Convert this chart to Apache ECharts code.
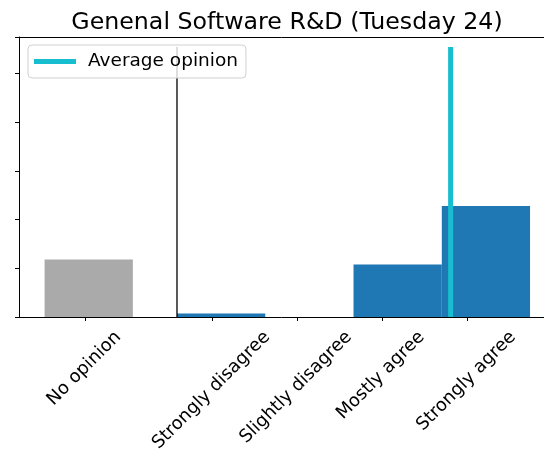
<!DOCTYPE html>
<html>
<head>
<meta charset="utf-8">
<script src="https://cdn.jsdelivr.net/npm/echarts@6/dist/echarts.min.js"></script>
<style>
  html, body { margin: 0; padding: 0; background: #fff; }
</style>
</head>
<body>
<div id="chart" style="width:544px; height:450px; background-color: white;"></div>
<script>
// opinion categories and where their tick sits on the x scale
const categories = ['No opinion', 'Strongly disagree', 'Slightly disagree', 'Mostly agree', 'Strongly agree']
const tickPos = [-0.04, 1.40, 2.36, 3.32, 4.29]
// bar bins (left edge, right edge) and heights
const binStart = [-0.5, 1, 2, 3, 4]
const binEnd = [0.5, 2, 3, 4, 5]
const counts = [1.18, 0.07, 0, 1.08, 2.28]
// vertical lines
const averageOpinion = 4.10
const referenceLine = 1.0
const lineTop = 5.55

const xMin = -0.79, xMax = 5.158
const LABEL_SIZE = 18
const LEGEND_SIZE = 18.5

// label anchor = top-right corner of the rotated text, as matplotlib centres the box on the tick
const pxPerUnit = (544 - 19) / (xMax - xMin)
const ctx = document.createElement('canvas').getContext('2d')
ctx.font = LABEL_SIZE + 'px "DejaVu Sans"'
const c45 = Math.SQRT1_2
const labelPos = categories.map((name, i) => {
  const L = ctx.measureText(name).width
  const h = LABEL_SIZE * 1.16
  return tickPos[i] + ((L - h) * c45 / 2) / pxPerUnit
})

function labelFor(v) {
  let best = 0
  for (let i = 0; i < labelPos.length; i++) {
    if (Math.abs(labelPos[i] - v) < Math.abs(labelPos[best] - v)) best = i
  }
  return categories[best]
}

const grayData = []
const blueData = []
for (let i = 0; i < categories.length; i++) {
  const row = [binStart[i], binEnd[i], counts[i]]
  if (i === 0) grayData.push(row)
  else blueData.push(row)
}

function renderBin(params, api) {
  const p0 = api.coord([api.value(0), api.value(2)])
  const p1 = api.coord([api.value(1), 0])
  return {
    type: 'rect',
    shape: { x: p0[0], y: p0[1], width: p1[0] - p0[0], height: p1[1] - p0[1] },
    style: { fill: api.visual('color') }
  }
}

const my_echart = echarts.init(document.getElementById('chart'), null, { renderer: 'canvas' })

my_echart.setOption({
  animation: false,
  textStyle: { fontFamily: 'DejaVu Sans' },
  title: {
    text: 'Genenal Software R&D (Tuesday 24)',
    left: 282,
    textAlign: 'center',
    top: 6,
    textStyle: { fontSize: 23.7, fontWeight: 'normal', color: '#000', fontFamily: 'DejaVu Sans' }
  },
  legend: {
    data: ['Average opinion'],
    left: 28,
    top: 45,
    icon: 'rect',
    itemWidth: 42,
    itemHeight: 5,
    padding: [7, 8, 7, 6],
    backgroundColor: 'rgba(255,255,255,0.8)',
    borderColor: '#d0d0d0',
    borderWidth: 1,
    borderRadius: 4,
    textStyle: { fontSize: LEGEND_SIZE, color: '#000', fontFamily: 'DejaVu Sans', padding: [0, 0, 0, 7] }
  },
  grid: {
    left: 19,
    right: 0,
    top: 37,
    bottom: 133,
    containLabel: false,
    outerBoundsMode: 'none'
  },
  xAxis: [
    {
      type: 'value',
      min: xMin,
      max: xMax,
      splitLine: { show: false },
      axisLine: { show: true, onZero: false, lineStyle: { color: '#000', width: 1 } },
      axisTick: { show: true, length: 4, customValues: tickPos, lineStyle: { color: '#000' } },
      axisLabel: {
        customValues: labelPos,
        rotate: 45,
        align: 'right',
        verticalAlign: 'top',
        margin: 11,
        fontSize: LABEL_SIZE,
        color: '#000',
        fontFamily: 'DejaVu Sans',
        formatter: labelFor
      }
    },
    {
      // top spine only
      type: 'value',
      position: 'top',
      min: xMin,
      max: xMax,
      splitLine: { show: false },
      axisLine: { show: true, onZero: false, lineStyle: { color: '#000', width: 1 } },
      axisTick: { show: false },
      axisLabel: { show: false }
    }
  ],
  yAxis: {
    type: 'value',
    min: 0,
    max: 5.753,
    interval: 1,
    splitLine: { show: false },
    axisLine: { show: true, onZero: false, lineStyle: { color: '#000', width: 1 } },
    axisTick: { show: true, length: 4, lineStyle: { color: '#000' } },
    axisLabel: { show: false }
  },
  series: [
    {
      name: 'No opinion',
      type: 'custom',
      renderItem: renderBin,
      itemStyle: { color: '#aaaaaa' },
      encode: { x: [0, 1], y: 2 },
      data: grayData
    },
    {
      name: 'Opinions',
      type: 'custom',
      renderItem: renderBin,
      itemStyle: { color: '#1f77b4' },
      encode: { x: [0, 1], y: 2 },
      data: blueData
    },
    {
      name: 'Reference',
      type: 'line',
      showSymbol: false,
      lineStyle: { color: '#000', width: 1.3 },
      itemStyle: { color: '#000' },
      data: [[referenceLine, 0], [referenceLine, lineTop]],
      z: 3
    },
    {
      name: 'Average opinion',
      type: 'line',
      showSymbol: false,
      lineStyle: { color: '#17becf', width: 5 },
      itemStyle: { color: '#17becf' },
      data: [[averageOpinion, 0], [averageOpinion, lineTop]],
      z: 4
    }
  ]
})
</script>
</body>
</html>
